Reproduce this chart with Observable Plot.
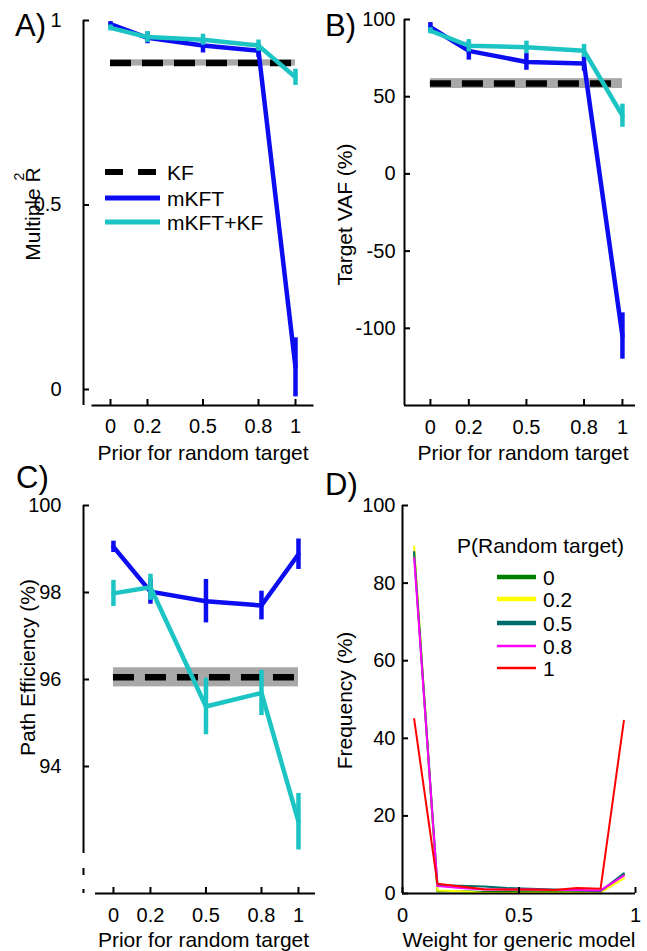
<!DOCTYPE html>
<html><head><meta charset="utf-8">
<script src="https://cdn.jsdelivr.net/npm/d3@7"></script>
<script src="https://cdn.jsdelivr.net/npm/@observablehq/plot@0.6"></script>
<style>
body{margin:0;background:#fff;}
#wrap{position:relative;width:647px;height:951px;overflow:hidden;font-family:"Liberation Sans",Arial,sans-serif;}
#wrap svg{position:absolute;}
</style></head><body><div id="wrap"></div>
<script>
// ---------- data ----------
const priors = [0, 0.2, 0.5, 0.8, 1];
const priorTickLabels = ["0", "0.2", "0.5", "0.8", "1"];
const seriesNames = ["KF", "mKFT", "mKFT+KF"];

// A) Multiple R^2
const r2_mKFT = [0.99, 0.953, 0.932, 0.918, 0.06];
const r2_mKFT_err = [0.007, 0.016, 0.02, 0.018, 0.08];
const r2_mKFTKF = [0.98, 0.955, 0.948, 0.932, 0.846];
const r2_mKFTKF_err = [0.008, 0.015, 0.015, 0.015, 0.022];
const r2_KF = 0.885, r2_KF_err = 0.0085;
const r2Ticks = [0, 0.5, 1];

// B) Target VAF (%)
const vaf_mKFT = [95, 79.7, 72.5, 71.5, -105];
const vaf_mKFT_err = [3, 6, 5.4, 5, 15];
const vaf_mKFTKF = [92.7, 83, 82, 79.7, 37.7];
const vaf_mKFTKF_err = [2, 4, 4, 4.2, 7.5];
const vaf_KF = 58.5, vaf_KF_err = 3.2;
const vafTicks = [-100, -50, 0, 50, 100];

// C) Path Efficiency (%)
const pe_mKFT = [99.05, 98.02, 97.8, 97.7, 98.88];
const pe_mKFT_err = [0.13, 0.29, 0.5, 0.33, 0.35];
const pe_mKFTKF = [97.98, 98.12, 95.38, 95.69, 92.73];
const pe_mKFTKF_err = [0.3, 0.3, 0.65, 0.52, 0.65];
const pe_KF = 96.05, pe_KF_err = 0.22;
const peTicks = [94, 96, 98, 100];
const peAxisBreak = 92;

// D) Frequency (%) vs weight for generic model
const weightBins = [0.05, 0.15, 0.25, 0.35, 0.45, 0.55, 0.65, 0.75, 0.85, 0.95];
const randomPriors = ["0", "0.2", "0.5", "0.8", "1"];
const freq_p0   = [88,   0.6, 0.6, 0.4, 0.5, 0.6, 0.4, 0.3, 0.3, 5.0];
const freq_p02  = [89.5, 0.8, 0.6, 0.1, 0.1, 0.2, 0.2, 0.2, 0.3, 3.9];
const freq_p05  = [88,   2.1, 2.0, 1.8, 1.4, 1.2, 1.0, 0.8, 0.6, 5.2];
const freq_p08  = [86.5, 1.9, 1.4, 1.0, 1.0, 1.0, 0.9, 0.9, 0.8, 4.6];
const freq_p1   = [45,   2.5, 1.8, 1.1, 1.0, 1.0, 0.9, 1.4, 1.2, 44.5];
const freqTicks = [0, 20, 40, 60, 80, 100];
const weightTicks = [0, 0.5, 1];

// ---------- styles ----------
const FONT = "Liberation Sans, Arial, sans-serif";
const BLUE = "#0c0cf0", CYAN = "#1cc4c4", GRAY = "#a8a8a8";
const freqColors = ["#008000", "#ffff00", "#006d6d", "#ff00ff", "#ff0000"];
const freqLegendWidths = [4.5, 4.5, 4.5, 2.5, 2.5];
const freqSeries = [freq_p0, freq_p02, freq_p05, freq_p08, freq_p1];

const wrap = document.getElementById("wrap");

function table(means, errs) {
  return priors.map((p, i) => ({prior: p, v: means[i], lo: means[i] - errs[i], hi: means[i] + errs[i]}));
}

function panel(o) {
  const fw = o.width - o.mL - o.mR, fh = o.height - o.mT - o.mB;
  const yAxisDx = o.yAxisDx || 0;
  const svg = Plot.plot({
    width: o.width, height: o.height,
    marginLeft: o.mL, marginRight: o.mR, marginTop: o.mT, marginBottom: o.mB,
    x: {domain: o.xDomain}, y: {domain: o.yDomain},
    style: {fontFamily: FONT, fontSize: "20px", color: "black", background: "transparent", overflow: "visible"},
    marks: [
      ...o.marks,
      Plot.ruleY([o.yDomain[0]], {stroke: "black", strokeWidth: 2}),
      ...(o.yAxisLine || [Plot.ruleX([o.xDomain[0]], {dx: yAxisDx, stroke: "black", strokeWidth: 2})]),
      Plot.tickY(o.yTicks, {y: d => d, dx: yAxisDx, insetRight: fw - 6, stroke: "black", strokeWidth: 2}),
      Plot.tickX(o.xTicks, {x: d => d, insetTop: fh - 6, stroke: "black", strokeWidth: 2}),
      Plot.axisX({ticks: o.xTicks, tickFormat: o.xFmt, tickSize: 0, tickPadding: o.xPad, fontSize: 20, label: null}),
      Plot.axisY({ticks: o.yTicks, tickFormat: d => String(d), tickSize: 0, tickPadding: o.yPad, dx: yAxisDx, fontSize: 20, label: null}),
      Plot.text([o.xTitle], {text: d => d, frameAnchor: "bottom", textAnchor: "middle", lineAnchor: "middle", dy: o.xTitleDy, dx: o.xTitleDx || 0, fontSize: 21}),
      Plot.text([o.yTitle], {text: d => d, frameAnchor: "left", textAnchor: "middle", lineAnchor: "middle", rotate: -90, dx: o.yTitleDx, dy: o.yTitleDy || 0, fontSize: 21}),
      ...(o.extra || [])
    ]
  });
  svg.style.left = o.left + "px";
  svg.style.top = o.top + "px";
  wrap.appendChild(svg);
}

function comparisonMarks(kf, kfErr, blue, cyan) {
  const band = [{x1: priors[0], x2: priors[priors.length - 1], y1: kf - kfErr, y2: kf + kfErr, y: kf}];
  return [
    Plot.rect(band, {x1: "x1", x2: "x2", y1: "y1", y2: "y2", fill: GRAY}),
    Plot.ruleY(band, {y: "y", x1: "x1", x2: "x2", stroke: "black", strokeWidth: 6.5, strokeDasharray: "21,11"}),
    Plot.line(blue, {x: "prior", y: "v", stroke: BLUE, strokeWidth: 4.5}),
    Plot.ruleX(blue, {x: "prior", y1: "lo", y2: "hi", stroke: BLUE, strokeWidth: 4.5}),
    Plot.line(cyan, {x: "prior", y: "v", stroke: CYAN, strokeWidth: 4.5}),
    Plot.ruleX(cyan, {x: "prior", y1: "lo", y2: "hi", stroke: CYAN, strokeWidth: 4.5})
  ];
}

const priorFmt = d => priorTickLabels[priors.indexOf(d)];

// A
panel({
  left: 0, top: 0, width: 323, height: 470,
  mL: 91.5, mR: 9.5, mT: 20, mB: 65,
  xDomain: [-0.1, 1.1], yDomain: [-0.0434, 1],
  xTicks: priors, xFmt: priorFmt, xPad: 13,
  yTicks: r2Ticks, yPad: 22, yAxisDx: -8.5,
  xTitle: "Prior for random target", xTitleDy: 48,
  yTitle: "Multiple R", yTitleDx: -59, yTitleDy: 1,
  marks: comparisonMarks(r2_KF, r2_KF_err, table(r2_mKFT, r2_mKFT_err), table(r2_mKFTKF, r2_mKFTKF_err)),
  extra: [Plot.text(["2"], {text: d => d, frameAnchor: "left", textAnchor: "middle", lineAnchor: "middle", rotate: -90, dx: -72, dy: -36.5, fontSize: 14})]
});

// B
panel({
  left: 323, top: 0, width: 324, height: 470,
  mL: 81, mR: 12, mT: 19, mB: 65,
  xDomain: [-0.135, 1.068], yDomain: [-150, 100],
  xTicks: priors, xFmt: priorFmt, xPad: 14,
  yTicks: vafTicks, yPad: 9,
  xTitle: "Prior for random target", xTitleDy: 48, xTitleDx: 3,
  yTitle: "Target VAF (%)", yTitleDx: -59, yTitleDy: 2,
  marks: comparisonMarks(vaf_KF, vaf_KF_err, table(vaf_mKFT, vaf_mKFT_err), table(vaf_mKFTKF, vaf_mKFTKF_err))
});

// C
const cDomain = [-0.097, 1.092], cY = [91.08, 100];
panel({
  left: 0, top: 470, width: 323, height: 481,
  mL: 95, mR: 8, mT: 35, mB: 58,
  xDomain: cDomain, yDomain: cY,
  xTicks: priors, xFmt: priorFmt, xPad: 14,
  yTicks: peTicks, yPad: 22, yAxisDx: -12,
  xTitle: "Prior for random target", xTitleDy: 47, xTitleDx: -2,
  yTitle: "Path Efficiency (%)", yTitleDx: -67.5, yTitleDy: -32,
  yAxisLine: [
    Plot.ruleX([cDomain[0]], {x: d => d, y1: () => peAxisBreak, y2: () => cY[1], dx: -12, stroke: "black", strokeWidth: 2}),
    Plot.ruleX([cDomain[0]], {x: d => d, y1: () => peAxisBreak, y2: () => cY[0], dx: -12, stroke: "black", strokeWidth: 2, strokeDasharray: "0,15,7,14,5,60"})
  ],
  marks: comparisonMarks(pe_KF, pe_KF_err, table(pe_mKFT, pe_mKFT_err), table(pe_mKFTKF, pe_mKFTKF_err))
});

// D
const freqTable = [];
freqSeries.forEach((s, k) => s.forEach((v, i) => freqTable.push({series: randomPriors[k], w: weightBins[i], f: v})));
panel({
  left: 323, top: 470, width: 324, height: 481,
  mL: 79, mR: 12, mT: 35, mB: 58,
  xDomain: [0, 1], yDomain: [0, 100],
  xTicks: weightTicks, xFmt: d => String(d), xPad: 14,
  yTicks: freqTicks, yPad: 7,
  xTitle: "Weight for generic model", xTitleDy: 47,
  yTitle: "Frequency (%)", yTitleDx: -57, yTitleDy: 1,
  marks: randomPriors.map((name, k) =>
    Plot.line(freqTable.filter(d => d.series === name), {x: "w", y: "f", stroke: freqColors[k], strokeWidth: 2}))
});

// ---------- overlay: panel letters and legends ----------
const NS = "http://www.w3.org/2000/svg";
const ov = document.createElementNS(NS, "svg");
ov.setAttribute("width", 647); ov.setAttribute("height", 951);
ov.style.left = "0px"; ov.style.top = "0px";
ov.setAttribute("font-family", FONT);
function el(tag, attrs, txt) {
  const e = document.createElementNS(NS, tag);
  for (const k in attrs) e.setAttribute(k, attrs[k]);
  if (txt != null) e.textContent = txt;
  ov.appendChild(e);
  return e;
}
[["A)", 15, 36], ["B)", 325, 36], ["C)", 16, 488], ["D)", 325, 495]].forEach(([t, x, y]) =>
  el("text", {x, y, "font-size": 31}, t));

// legend A
const legA = [
  {name: seriesNames[0], color: "black", w: 6, dash: "18,15", y: 172},
  {name: seriesNames[1], color: BLUE, w: 5, dash: null, y: 198},
  {name: seriesNames[2], color: CYAN, w: 5, dash: null, y: 222}
];
legA.forEach(d => {
  const a = {x1: 105, x2: 160, y1: d.y, y2: d.y, stroke: d.color, "stroke-width": d.w};
  if (d.dash) { a["stroke-dasharray"] = d.dash; a.x2 = 157; }
  el("line", a);
  el("text", {x: 167, y: d.y + 7.5, "font-size": 21}, d.name);
});

// legend D
el("text", {x: 457, y: 553, "font-size": 21}, "P(Random target)");
const legDy = [577, 599, 623, 646, 668];
randomPriors.forEach((name, k) => {
  el("line", {x1: 497, x2: 536, y1: legDy[k], y2: legDy[k], stroke: freqColors[k], "stroke-width": freqLegendWidths[k]});
  el("text", {x: 543, y: legDy[k] + 7.5, "font-size": 21}, name);
});
wrap.appendChild(ov);
</script>
</body></html>
